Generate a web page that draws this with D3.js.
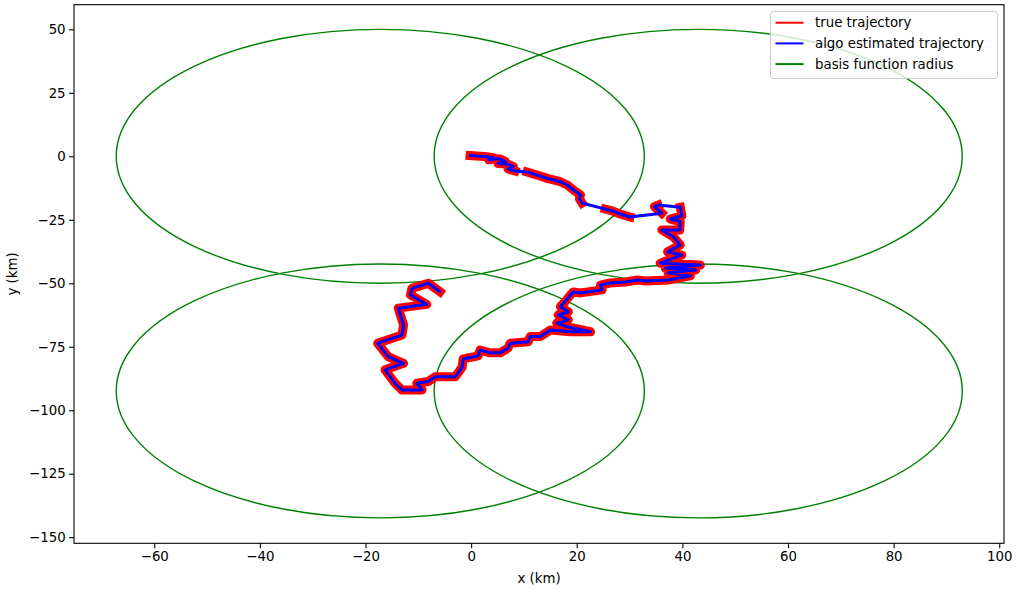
<!DOCTYPE html>
<html>
<head>
<meta charset="utf-8">
<script src="https://cdn.jsdelivr.net/npm/d3@7"></script>
<style>
  html, body { margin: 0; padding: 0; background: #fff; }
  svg { display: block; font-family: "DejaVu Sans", sans-serif; }
</style>
</head>
<body>
<svg id="chart" width="1016" height="592"></svg>
<script>
// ---------- data ----------
const xTicks = [-60, -40, -20, 0, 20, 40, 60, 80, 100];
const yTicks = [-150, -125, -100, -75, -50, -25, 0, 25, 50];

// basis function centres (km) and radius
const basisCx = [-17.2, 43.0, -17.2, 43.0];
const basisCy = [0, 0, -92.4, -92.4];
const basisRadius = 50;

// true trajectory, drawn in observed segments
const trueSegX = [
  [-0.2, 1.0, 2.5, 4.2, 3.3, 5.0, 5.5, 6.5, 5.1, 6.8, 8.0, 7.0, 8.3],
  [10.6, 12.5, 14.4, 16.9, 18.2, 19.4, 20.7, 20.5, 21.0],
  [25.4, 26.7, 28.2, 30.1],
  [36.1, 34.7, 35.4],
  [39.6, 39.9, 37.7, 39.6, 39.5, 36.1, 38.3, 39.6, 37.2, 39.9, 35.8, 43.4, 36.8, 42.5, 37.3, 41.5, 37.3,
   33.0, 31.5, 29.2, 26.3, 24.5, 24.8, 20.7, 19.3, 18.8, 17.8, 16.9, 18.4, 16.5, 18.4, 16.2, 18.1, 22.6,
   18.8, 15.0, 13.1, 11.2, 10.8, 7.4, 7.0, 5.5, 3.6, 1.7, 1.3, -1.5, -1.7, -3.0, -6.8, -8.1, -10.3, -9.3,
   -13.1, -14.4, -16.3, -12.8, -15.7, -17.7, -13.1, -12.8, -13.8, -8.4, -11.5, -11.2, -8.1, -5.9]
];
const trueSegY = [
  [0.3, 0.1, -0.1, -0.6, -1.4, -1.0, -1.1, -2.1, -2.8, -3.0, -4.1, -5.0, -5.8],
  [-6.2, -7.4, -8.7, -10.0, -11.3, -13.3, -15.2, -16.8, -18.4],
  [-20.8, -21.5, -22.7, -23.9],
  [-22.4, -19.8, -19.2],
  [-20.1, -23.4, -24.7, -25.7, -29.0, -29.0, -31.7, -34.9, -37.6, -38.9, -42.1, -42.8, -44.0, -44.8, -45.9, -47.1, -48.7,
   -49.1, -48.7, -49.5, -49.9, -50.7, -52.6, -53.8, -53.4, -54.6, -57.2, -59.2, -61.2, -62.5, -64.4, -65.7, -67.1, -69.1,
   -69.1, -68.4, -71.0, -71.0, -73.0, -73.6, -75.5, -77.4, -77.4, -76.3, -78.6, -79.8, -83.0, -86.8, -86.8, -88.7, -89.4, -92.0,
   -92.0, -89.4, -84.1, -81.5, -78.9, -73.6, -70.4, -66.4, -59.8, -58.3, -54.6, -52.0, -50.0, -53.3]
];

// algorithm-estimated trajectory (continuous)
const estX = [-0.2, 1.0, 2.5, 4.2, 3.3, 5.0, 5.5, 6.5, 5.1, 6.8, 8.0, 7.0, 8.3,
  10.6, 12.5, 14.4, 16.9, 18.2, 19.4, 20.7, 20.5, 21.0,
  25.4, 26.7, 28.2, 30.1,
  36.1, 34.7, 35.4,
  39.6, 39.9, 37.7, 39.6, 39.5, 36.1, 38.3, 39.6, 37.2, 39.9, 35.8, 43.4, 36.8, 42.5, 37.3, 41.5, 37.3,
  33.0, 31.5, 29.2, 26.3, 24.5, 24.8, 20.7, 19.3, 18.8, 17.8, 16.9, 18.4, 16.5, 18.4, 16.2, 18.1, 22.6,
  18.8, 15.0, 13.1, 11.2, 10.8, 7.4, 7.0, 5.5, 3.6, 1.7, 1.3, -1.5, -1.7, -3.0, -6.8, -8.1, -10.3, -9.3,
  -13.1, -14.4, -16.3, -12.8, -15.7, -17.7, -13.1, -12.8, -13.8, -8.4, -11.5, -11.2, -8.1, -5.9];
const estY = [0.3, 0.1, -0.1, -0.6, -1.4, -1.0, -1.1, -2.1, -2.8, -3.0, -4.1, -5.0, -5.8,
  -6.2, -7.4, -8.7, -10.0, -11.3, -13.3, -15.2, -16.8, -18.4,
  -20.8, -21.5, -22.7, -23.9,
  -22.4, -19.8, -19.2,
  -20.1, -23.4, -24.7, -25.7, -29.0, -29.0, -31.7, -34.9, -37.6, -38.9, -42.1, -42.8, -44.0, -44.8, -45.9, -47.1, -48.7,
  -49.1, -48.7, -49.5, -49.9, -50.7, -52.6, -53.8, -53.4, -54.6, -57.2, -59.2, -61.2, -62.5, -64.4, -65.7, -67.1, -69.1,
  -69.1, -68.4, -71.0, -71.0, -73.0, -73.6, -75.5, -77.4, -77.4, -76.3, -78.6, -79.8, -83.0, -86.8, -86.8, -88.7, -89.4, -92.0,
  -92.0, -89.4, -84.1, -81.5, -78.9, -73.6, -70.4, -66.4, -59.8, -58.3, -54.6, -52.0, -50.0, -53.3];

const legendLabels = ["true trajectory", "algo estimated trajectory", "basis function radius"];
const legendColors = ["#ff0000", "#0000ff", "#008000"];

// ---------- layout ----------
const L = 74, R = 1004, T = 4.7, B = 543.3;
const svg = d3.select("#chart");
const x = d3.scaleLinear().domain([-75.2, 100.9]).range([L, R]);
const y = d3.scaleLinear().domain([-152.4, 59.7]).range([B, T]);

svg.append("defs").append("clipPath").attr("id", "clip")
  .append("rect").attr("x", L).attr("y", T).attr("width", R - L).attr("height", B - T);

const plot = svg.append("g").attr("clip-path", "url(#clip)");

// basis circles (ellipses in pixel space)
plot.selectAll("ellipse.basis").data(basisCx.map((cx, i) => ({cx, cy: basisCy[i]})))
  .enter().append("ellipse")
  .attr("class", "basis")
  .attr("cx", d => x(d.cx)).attr("cy", d => y(d.cy))
  .attr("rx", d => x(d.cx + basisRadius) - x(d.cx))
  .attr("ry", d => y(d.cy) - y(d.cy + basisRadius))
  .attr("fill", "none").attr("stroke", "#008000").attr("stroke-width", 1.4);

const line = d3.line().x(d => x(d[0])).y(d => y(d[1]));

// true trajectory segments
trueSegX.forEach((xs, s) => {
  const pts = xs.map((v, i) => [v, trueSegY[s][i]]);
  plot.append("path").datum(pts).attr("d", line)
    .attr("fill", "none").attr("stroke", "#ff0000").attr("stroke-width", 9)
    .attr("stroke-linejoin", "round").attr("stroke-linecap", "square");
});

// estimated trajectory
const estPts = estX.map((v, i) => [v, estY[i]]);
plot.append("path").datum(estPts).attr("d", line)
  .attr("fill", "none").attr("stroke", "#0000ff").attr("stroke-width", 3)
  .attr("stroke-linejoin", "round").attr("stroke-linecap", "round");

// ---------- axes ----------
const fmt = d3.format("");
const xAxis = d3.axisBottom(x).tickValues(xTicks).tickSize(4.9).tickPadding(3.5).tickSizeOuter(0)
  .tickFormat(d => fmt(d));
const yAxis = d3.axisLeft(y).tickValues(yTicks).tickSize(4.9).tickPadding(3.5).tickSizeOuter(0)
  .tickFormat(d => fmt(d));

const gx = svg.append("g").attr("transform", `translate(0,${B})`).call(xAxis);
const gy = svg.append("g").attr("transform", `translate(${L},0)`).call(yAxis);
[gx, gy].forEach(g => {
  g.select(".domain").remove();
  g.selectAll(".tick line").attr("stroke", "#000").attr("stroke-width", 1.1);
  g.selectAll(".tick text").attr("fill", "#000").attr("font-size", "13.33px")
    .attr("font-family", "DejaVu Sans, sans-serif");
});

// frame
svg.append("rect").attr("x", L).attr("y", T).attr("width", R - L).attr("height", B - T)
  .attr("fill", "none").attr("stroke", "#000").attr("stroke-width", 1.1);

// axis labels
svg.append("text").attr("x", (L + R) / 2).attr("y", 583).attr("text-anchor", "middle")
  .attr("font-size", "13.33px").text("x (km)");
svg.append("text").attr("transform", `translate(17,${(T + B) / 2}) rotate(-90)`)
  .attr("text-anchor", "middle").attr("font-size", "13.33px").text("y (km)");

// ---------- legend ----------
const lg = svg.append("g");
lg.append("rect").attr("x", 770.5).attr("y", 11.5).attr("width", 227).attr("height", 67)
  .attr("rx", 3).attr("ry", 3)
  .attr("fill", "#fff").attr("fill-opacity", 0.8).attr("stroke", "#cccccc").attr("stroke-width", 1);
legendLabels.forEach((lab, i) => {
  const yy = 22.7 + i * 20.7;
  lg.append("line").attr("x1", 775.5).attr("x2", 803.5).attr("y1", yy).attr("y2", yy)
    .attr("stroke", legendColors[i]).attr("stroke-width", 2);
  lg.append("text").attr("x", 815).attr("y", yy).attr("dy", "0.35em")
    .attr("font-size", "13.33px").text(lab);
});
</script>
</body>
</html>
